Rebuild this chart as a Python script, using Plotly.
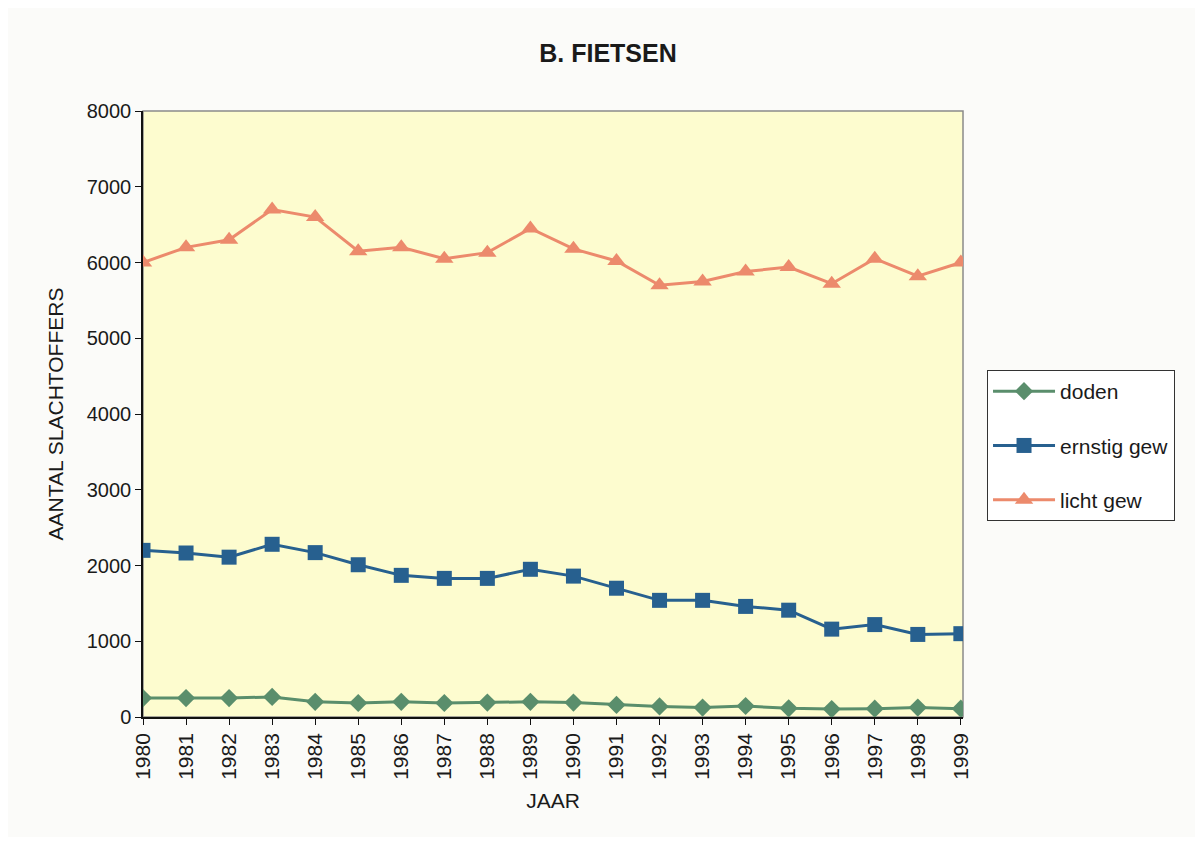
import plotly.graph_objects as go

years = list(range(1980, 2000))
doden = [250, 250, 250, 265, 200, 185, 200, 185, 190, 200, 190, 160, 140, 125, 145, 115, 105, 110, 125, 110]
ernstig_gew = [2200, 2165, 2110, 2280, 2170, 2010, 1870, 1830, 1830, 1950, 1860, 1700, 1540, 1540, 1460, 1410, 1160, 1220, 1090, 1100]
licht_gew = [6000, 6200, 6300, 6700, 6600, 6150, 6200, 6050, 6130, 6450, 6180, 6020, 5700, 5750, 5880, 5940, 5720, 6050, 5820, 6000]

FONT = "Liberation Sans, Arial, sans-serif"

fig = go.Figure()
fig.add_trace(go.Scatter(x=years, y=doden, name="doden", mode="lines+markers", legendgroup="a",
                         line=dict(color="#5a8e6c", width=3),
                         marker=dict(symbol="diamond", size=14, color="#5a8e6c")))
fig.add_trace(go.Scatter(x=years, y=ernstig_gew, name="ernstig gew", mode="lines+markers", legendgroup="b",
                         line=dict(color="#27608f", width=3),
                         marker=dict(symbol="square", size=15, color="#27608f")))
fig.add_trace(go.Scatter(x=years, y=licht_gew, name="licht gew", mode="lines+markers", legendgroup="c",
                         line=dict(color="#ec8a6c", width=3),
                         marker=dict(symbol="triangle-up", size=16, color="#ec8a6c")))

fig.add_shape(type="rect", xref="paper", yref="paper", x0=0, y0=0, x1=1, y1=1,
              line=dict(color="#8a8a8a", width=1.5), layer="below")

fig.update_layout(
    width=1187, height=829,
    margin=dict(l=135, r=232, t=103, b=120),
    paper_bgcolor="#fbfbf9",
    plot_bgcolor="#fdfccf",
    font=dict(family=FONT, size=20, color="#1a1a1a"),
    title=dict(text="<b>B. FIETSEN</b>", x=0.5055, xanchor="center", y=0.9457, yanchor="middle",
               font=dict(family=FONT, size=25, color="#1a1a1a")),
    showlegend=True,
    legend=dict(x=1.0293, xanchor="left", y=0.5726, yanchor="top",
                bgcolor="#ffffff", bordercolor="#333333", borderwidth=1,
                font=dict(family=FONT, size=21), tracegroupgap=24, itemwidth=62),
    xaxis=dict(range=[1980, 1999.05], tickmode="array", tickvals=years,
               ticktext=[str(y) for y in years], tickangle=-90,
               showgrid=False, zeroline=False, showline=True, linecolor="#111111", linewidth=1.5,
               ticks="outside", ticklen=6, tickcolor="#111111",
               tickfont=dict(size=21),
               title=dict(text="JAAR", standoff=14, font=dict(size=21))),
    yaxis=dict(range=[0, 8000], tickvals=[0, 1000, 2000, 3000, 4000, 5000, 6000, 7000, 8000],
               showgrid=False, zeroline=False, showline=True, linecolor="#111111", linewidth=1.5,
               ticks="outside", ticklen=6, tickcolor="#111111",
               title=dict(text="AANTAL SLACHTOFFERS", standoff=17, font=dict(size=21))),
)

fig.write_html("out.html")
